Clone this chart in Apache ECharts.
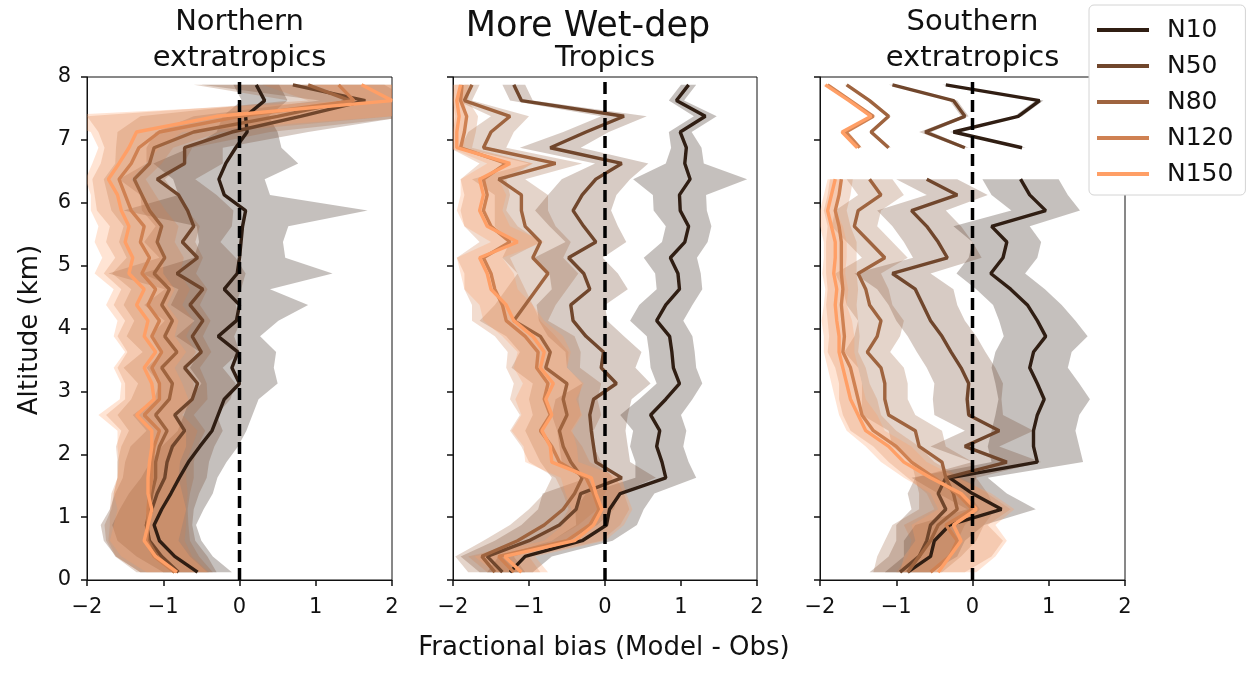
<!DOCTYPE html>
<html><head><meta charset="utf-8">
<script src="https://cdn.jsdelivr.net/npm/echarts@6/dist/echarts.min.js"></script>
<style>html,body{margin:0;padding:0;background:#fff}#c{width:1256px;height:675px}</style>
</head><body><div id="c"></div>
<script>
// Altitude levels (km)
const altitude = [0.125,0.375,0.625,0.875,1.125,1.375,1.625,1.875,2.125,2.375,2.625,2.875,3.125,3.375,3.625,3.875,
                  4.125,4.375,4.625,4.875,5.125,5.375,5.625,5.875,6.125,6.375,6.625,6.875,7.125,7.375,7.625,7.875];
const seriesNames = ['N10','N50','N80','N120','N150'];
const xTicks = [-2,-1,0,1,2];
const yTicks = [0,1,2,3,4,5,6,7,8];

// Northern extratropics: fractional bias and band half-width
const ne_N10 = [-0.55,-0.85,-1.05,-1.12,-1.02,-0.9,-0.79,-0.67,-0.52,-0.36,-0.28,-0.2,0.0,-0.1,-0.02,-0.28,-0.04,0.0,-0.2,-0.03,0.0,0.02,0.04,0.08,-0.2,-0.27,-0.18,-0.05,0.1,0.08,0.33,0.22];
const ne_N50 = [-0.8,-1.02,-1.18,-1.22,-1.15,-1.08,-0.98,-0.95,-0.88,-0.72,-0.85,-0.62,-0.55,-0.72,-0.5,-0.62,-0.48,-0.65,-0.48,-0.82,-0.55,-0.75,-0.6,-0.68,-0.8,-1.08,-0.72,-0.72,-0.1,0.8,1.65,0.7];
const ne_N80 = [-0.85,-1.08,-1.2,-1.22,-1.18,-1.15,-1.1,-1.1,-1.05,-0.95,-1.1,-0.92,-0.88,-1.02,-0.82,-0.98,-0.88,-1.02,-0.92,-1.12,-0.98,-1.08,-1.02,-1.18,-1.28,-1.38,-1.18,-1.12,-0.6,0.5,1.45,0.9];
const ne_N120 = [-0.85,-1.12,-1.22,-1.2,-1.2,-1.18,-1.15,-1.15,-1.12,-1.05,-1.25,-1.05,-1.05,-1.15,-1.02,-1.15,-1.05,-1.2,-1.1,-1.28,-1.18,-1.3,-1.25,-1.42,-1.5,-1.58,-1.42,-1.32,-1.05,0.0,1.5,1.3];
const ne_N150 = [-0.82,-1.1,-1.25,-1.2,-1.15,-1.2,-1.2,-1.18,-1.15,-1.15,-1.35,-1.12,-1.15,-1.25,-1.1,-1.25,-1.2,-1.35,-1.25,-1.45,-1.4,-1.5,-1.45,-1.55,-1.6,-1.72,-1.58,-1.45,-1.35,-0.3,2.0,1.6];
const ne_N10_sd = [0.45,0.5,0.55,0.55,0.55,0.55,0.5,0.5,0.5,0.45,0.45,0.45,0.5,0.55,0.5,0.55,0.55,0.9,0.6,1.25,0.6,0.55,0.6,1.6,0.6,0.6,0.95,0.6,0.4,0.3,0.3,0.3];
const ne_N50_sd = [0.5,0.6,0.6,0.6,0.55,0.55,0.55,0.55,0.55,0.5,0.55,0.5,0.5,0.5,0.5,0.55,0.5,0.6,0.5,0.9,0.5,0.5,0.5,0.6,0.5,0.5,0.5,0.5,1.0,1.4,0.6,1.2];
const ne_N80_sd = [0.5,0.55,0.55,0.55,0.5,0.5,0.5,0.5,0.5,0.5,0.5,0.5,0.45,0.5,0.45,0.5,0.5,0.5,0.5,0.55,0.5,0.5,0.5,0.5,0.45,0.4,0.45,0.5,1.0,1.8,0.8,1.5];
const ne_N120_sd = [0.45,0.5,0.5,0.5,0.5,0.5,0.45,0.45,0.5,0.5,0.5,0.45,0.45,0.45,0.45,0.45,0.45,0.45,0.45,0.5,0.45,0.45,0.45,0.45,0.4,0.35,0.4,0.45,0.8,2.0,0.6,1.0];
const ne_N150_sd = [0.4,0.45,0.45,0.45,0.45,0.45,0.4,0.4,0.45,0.45,0.5,0.45,0.4,0.4,0.4,0.4,0.4,0.4,0.4,0.45,0.4,0.4,0.4,0.4,0.35,0.3,0.35,0.4,0.6,2.3,0.5,0.6];

// Tropics
const tr_N10 = [-1.25,-1.05,-0.3,0.02,0.06,0.2,0.8,0.75,0.68,0.72,0.6,0.8,0.98,0.9,0.88,0.85,0.68,0.8,0.98,0.96,0.86,1.05,1.1,0.99,0.98,1.12,1.05,1.07,0.99,1.32,0.94,1.1];
const tr_N50 = [-1.35,-1.55,-1.0,-0.6,-0.38,-0.32,0.22,-0.12,-0.15,-0.18,-0.2,-0.15,0.15,-0.05,-0.02,-0.25,-0.42,-0.45,-0.2,-0.28,-0.48,-0.12,-0.28,-0.42,-0.3,-0.12,0.22,-0.72,-0.25,0.25,-1.1,-1.2];
const tr_N80 = [-1.45,-1.62,-1.15,-0.8,-0.55,-0.4,-0.3,-0.45,-0.55,-0.6,-0.5,-0.55,-0.5,-0.78,-0.72,-0.85,-1.2,-1.05,-0.9,-0.75,-0.95,-0.85,-1.05,-1.1,-1.1,-1.4,-0.65,-1.6,-1.5,-1.25,-1.85,-1.75];
const tr_N120 = [-1.2,-1.4,-0.5,-0.2,-0.08,-0.15,-0.25,-0.6,-0.7,-0.85,-0.72,-0.8,-0.75,-0.9,-0.88,-1.05,-1.3,-1.35,-1.45,-1.5,-1.6,-1.25,-1.5,-1.6,-1.55,-1.6,-1.3,-1.9,-1.85,-1.82,-1.9,-1.88];
const tr_N150 = [-1.1,-1.32,-0.4,-0.15,-0.04,-0.12,-0.18,-0.7,-0.72,-0.83,-0.7,-0.78,-0.68,-0.85,-0.8,-0.95,-1.2,-1.3,-1.5,-1.55,-1.65,-1.15,-1.55,-1.65,-1.6,-1.65,-1.25,-1.95,-1.95,-1.92,-1.95,-1.9];
const tr_N10_sd = [0.3,0.35,0.4,0.4,0.45,0.45,0.4,0.35,0.35,0.35,0.4,0.35,0.3,0.3,0.3,0.3,0.35,0.35,0.3,0.3,0.35,0.3,0.3,0.35,0.35,0.75,0.25,0.2,0.15,0.15,0.1,0.1];
const tr_N50_sd = [0.3,0.35,0.45,0.5,0.5,0.5,0.45,0.45,0.45,0.45,0.5,0.5,0.45,0.45,0.5,0.5,0.45,0.45,0.5,0.45,0.45,0.4,0.45,0.5,0.45,0.45,0.35,0.4,0.3,0.3,0.15,0.15];
const tr_N80_sd = [0.35,0.35,0.45,0.45,0.45,0.4,0.4,0.4,0.4,0.45,0.45,0.45,0.45,0.45,0.4,0.45,0.45,0.4,0.4,0.4,0.4,0.4,0.4,0.35,0.35,0.35,0.35,0.3,0.3,0.25,0.1,0.1];
const tr_N120_sd = [0.35,0.4,0.45,0.4,0.4,0.4,0.4,0.4,0.4,0.4,0.4,0.45,0.45,0.4,0.4,0.4,0.45,0.4,0.4,0.35,0.35,0.4,0.35,0.3,0.3,0.3,0.35,0.15,0.15,0.15,0.1,0.1];
const tr_N150_sd = [0.35,0.4,0.4,0.4,0.4,0.4,0.4,0.35,0.35,0.4,0.4,0.4,0.4,0.35,0.35,0.4,0.4,0.35,0.35,0.35,0.3,0.35,0.3,0.3,0.3,0.25,0.3,0.1,0.1,0.1,0.1,0.1];

// Southern extratropics (no data at 6.625 km)
const se_N10 = [-0.85,-0.55,-0.5,-0.3,0.38,0.0,-0.3,0.85,0.8,0.8,0.85,0.94,0.85,0.75,0.8,0.96,0.85,0.72,0.5,0.24,0.4,0.45,0.25,0.96,0.75,0.63,null,0.65,-0.25,0.6,0.88,-0.35];
const se_N50 = [-0.95,-0.7,-0.6,-0.55,-0.35,-0.45,-0.35,0.45,-0.1,0.35,-0.05,-0.07,-0.05,-0.15,-0.28,-0.4,-0.55,-0.65,-0.75,-1.05,-0.33,-0.45,-0.6,-0.8,-0.2,-0.6,null,-0.1,-0.62,-0.1,-0.25,-1.05];
const se_N80 = [-0.85,-0.7,-0.55,-0.45,-0.2,-0.25,-0.35,-0.4,-0.7,-0.75,-1.1,-1.15,-1.15,-1.2,-1.38,-1.25,-1.2,-1.35,-1.4,-1.5,-1.15,-1.35,-1.55,-1.5,-1.2,-1.35,null,-1.1,-1.33,-1.1,-1.35,-1.65];
const se_N120 = [-0.55,-0.3,-0.2,-0.35,0.0,-0.2,-0.5,-0.8,-1.0,-1.3,-1.45,-1.5,-1.55,-1.6,-1.7,-1.68,-1.7,-1.72,-1.7,-1.72,-1.72,-1.72,-1.75,-1.8,-1.75,-1.72,null,-1.48,-1.66,-1.3,-1.6,-1.9];
const se_N150 = [-0.45,-0.3,-0.15,-0.25,0.05,-0.15,-0.55,-0.9,-1.1,-1.4,-1.5,-1.6,-1.65,-1.7,-1.75,-1.75,-1.78,-1.8,-1.78,-1.82,-1.8,-1.8,-1.85,-1.9,-1.85,-1.8,null,-1.51,-1.71,-1.33,-1.62,-1.93];
const se_N10_sd = [0.3,0.35,0.4,0.45,0.45,0.45,0.5,0.6,0.6,0.55,0.55,0.6,0.55,0.5,0.5,0.55,0.5,0.45,0.45,0.45,0.45,0.45,0.5,0.45,0.5,0.5,0,0.05,0.05,0.05,0.05,0.05];
const se_N50_sd = [0.4,0.4,0.4,0.45,0.45,0.4,0.4,0.45,0.45,0.45,0.45,0.45,0.45,0.45,0.45,0.45,0.45,0.45,0.5,0.5,0.45,0.45,0.45,0.45,0.4,0.4,0,0.05,0.08,0.05,0.05,0.05];
const se_N80_sd = [0.45,0.55,0.6,0.6,0.5,0.45,0.4,0.4,0.35,0.35,0.35,0.3,0.3,0.3,0.3,0.3,0.3,0.3,0.3,0.3,0.3,0.3,0.3,0.3,0.3,0.3,0,0.03,0.03,0.03,0.03,0.03];
const se_N120_sd = [0.45,0.55,0.6,0.55,0.5,0.4,0.35,0.3,0.3,0.3,0.25,0.25,0.2,0.2,0.2,0.2,0.2,0.2,0.2,0.2,0.2,0.2,0.15,0.15,0.15,0.15,0,0.03,0.03,0.03,0.03,0.03];
const se_N150_sd = [0.5,0.6,0.6,0.55,0.5,0.4,0.35,0.3,0.3,0.25,0.25,0.2,0.2,0.2,0.2,0.2,0.2,0.15,0.15,0.15,0.15,0.15,0.15,0.1,0.1,0.1,0,0.03,0.03,0.03,0.03,0.03];

const panelValues = [
  [ne_N10, ne_N50, ne_N80, ne_N120, ne_N150],
  [tr_N10, tr_N50, tr_N80, tr_N120, tr_N150],
  [se_N10, se_N50, se_N80, se_N120, se_N150]
];
const panelSpreads = [
  [ne_N10_sd, ne_N50_sd, ne_N80_sd, ne_N120_sd, ne_N150_sd],
  [tr_N10_sd, tr_N50_sd, tr_N80_sd, tr_N120_sd, tr_N150_sd],
  [se_N10_sd, se_N50_sd, se_N80_sd, se_N120_sd, se_N150_sd]
];

// ---- styling ----
const FF = 'DejaVu Sans';
const colors = [[48,30,19],[112,70,44],[159,100,63],[207,129,82],[255,159,102]];
const rgb = c => 'rgb(' + c.join(',') + ')';
const rgba = (c, a) => 'rgba(' + c.join(',') + ',' + a + ')';
const gridPos = [{left:87,width:305},{left:453,width:304},{left:820,width:305}];
const minus = v => v < 0 ? '\u2212' + Math.abs(v) : String(v);

const grids = gridPos.map(g => ({left:g.left, width:g.width, top:77, height:503, show:true,
  borderColor:'#111', borderWidth:1, backgroundColor:'transparent', containLabel:false}));
const xAxes = gridPos.map((g, i) => ({gridIndex:i, type:'value', min:xTicks[0], max:xTicks[xTicks.length-1], interval:1,
  axisLine:{show:true, onZero:false, lineStyle:{color:'#111', width:1}},
  axisTick:{show:true, length:6, lineStyle:{color:'#111', width:1.5}},
  axisLabel:{show:true, formatter:minus, fontSize:21, fontFamily:FF, color:'#111', margin:17},
  splitLine:{show:false}}));
const yAxes = gridPos.map((g, i) => ({gridIndex:i, type:'value', min:yTicks[0], max:yTicks[yTicks.length-1], interval:1,
  axisLine:{show:true, onZero:false, lineStyle:{color:'#111', width:1}},
  axisTick:{show:true, length:6, lineStyle:{color:'#111', width:1.5}},
  axisLabel:{show:i === 0, fontSize:21, fontFamily:FF, color:'#111', margin:16},
  splitLine:{show:false}}));

function bandSeries(p, k) {
  const vals = panelValues[p][k], sd = panelSpreads[p][k];
  return {
    type:'custom', xAxisIndex:p, yAxisIndex:p, clip:true, silent:true, z:1,
    data:[[0, 0]],
    renderItem: function (params, api) {
      const children = [];
      let run = [];
      const flush = () => {
        if (run.length > 1) {
          const left = run.map(i => api.coord([vals[i] - sd[i], altitude[i]]));
          const right = run.slice().reverse().map(i => api.coord([vals[i] + sd[i], altitude[i]]));
          children.push({type:'polygon', shape:{points:left.concat(right)},
            style:{fill:rgba(colors[k], 0.28), stroke:null}});
        }
        run = [];
      };
      for (let i = 0; i < altitude.length; i++) {
        if (vals[i] === null) flush(); else run.push(i);
      }
      flush();
      return {type:'group', children:children};
    }
  };
}

const series = [];
for (let p = 0; p < 3; p++) {
  for (let k = 0; k < 5; k++) series.push(bandSeries(p, k));
  for (let k = 0; k < 5; k++) {
    const vals = panelValues[p][k];
    series.push({
      type:'line', name:seriesNames[k], xAxisIndex:p, yAxisIndex:p, z:3,
      showSymbol:false, symbol:'none', silent:true, connectNulls:false,
      color:rgb(colors[k]),
      lineStyle:{color:rgb(colors[k]), width:3.4},
      data: altitude.map((a, i) => [vals[i] === null ? '-' : vals[i], a])
    });
  }
  series.push({
    type:'line', xAxisIndex:p, yAxisIndex:p, z:5, showSymbol:false, symbol:'none', silent:true,
    lineStyle:{color:'#000', width:3.5, type:[12, 6]},
    data:[[0, yTicks[0]], [0, yTicks[yTicks.length-1]]]
  });
}

function txt(text, x, y, size, rot) {
  return {type:'text', x:x, y:y, rotation:rot || 0, z:10,
    style:{text:text, fontSize:size, fontFamily:FF, fill:'#111',
      align:'center', verticalAlign:'middle', textAlign:'center', textVerticalAlign:'middle'}};
}
const centers = gridPos.map(g => g.left + g.width / 2);
const graphics = [
  txt('Northern', centers[0], 22, 29), txt('extratropics', centers[0], 58, 29),
  txt('More Wet-dep', 588, 27, 35),
  txt('Tropics', centers[1], 58, 29),
  txt('Southern', centers[2], 22, 29), txt('extratropics', centers[2], 58, 29),
  txt('Altitude (km)', 30, 330, 26, Math.PI / 2),
  txt('Fractional bias (Model - Obs)', 604, 648, 26)
];

const chart = echarts.init(document.getElementById('c'), null, {renderer:'canvas'});
chart.setOption({
  animation:false,
  backgroundColor:'#fff',
  grid:grids, xAxis:xAxes, yAxis:yAxes,
  legend:{data:seriesNames, orient:'vertical', left:1089, top:5, icon:'rect', itemWidth:52, itemHeight:4,
    itemGap:6, padding:[10, 12, 6, 8], backgroundColor:'#fff', borderColor:'#d4d4d4', borderWidth:1, borderRadius:5,
    textStyle:{fontSize:25, fontFamily:FF, color:'#111', lineHeight:30, padding:[0, 0, 0, 13]}, z:20, selectedMode:false},
  graphic:graphics,
  series:series
});
</script></body></html>
